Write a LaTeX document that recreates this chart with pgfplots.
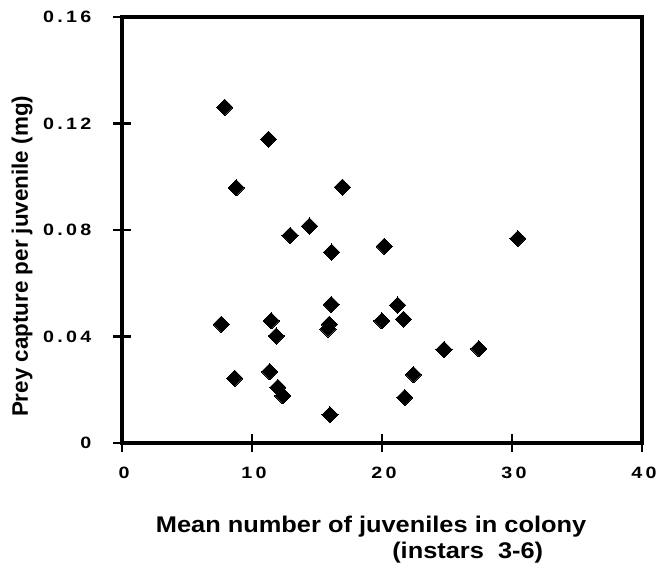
\documentclass[border=0pt]{standalone}
\usepackage{fontspec}
\setmainfont{Liberation Sans}
\newfontfamily\tickfont[FakeStretch=1.2, LetterSpace=20]{Liberation Sans}
\newfontfamily\labfont[FakeStretch=1.12]{Liberation Sans}
\usepackage{pgfplots}
\pgfplotsset{compat=1.18}
\pgfplotsset{every axis/.append style={line width=2.4pt},
  every outer x axis line/.append style={line width=2.4pt},
  every outer y axis line/.append style={line width=2.4pt}}
\begin{document}
\begin{tikzpicture}
\path[use as bounding box] (-91.5pt,-99pt) rectangle (404.25pt,332.25pt);
\begin{axis}[
  at={(0,0)}, anchor=south west,
  scale only axis, width=390pt, height=319.5pt,
  xmin=0, xmax=40, ymin=0, ymax=0.16,
  xtick={0,10,20,30,40}, xticklabels={0,10,20,30,40},
  ytick={0,0.04,0.08,0.12,0.16}, yticklabels={0,0.04,0.08,0.12,0.16},
  axis line style={line width=2.4pt, black},
  major tick style={line width=2.2pt, black},
  tick align=center, major tick length=13pt,
  xtick pos=bottom, ytick pos=left,
  ticklabel style={font=\tickfont\bfseries\fontsize{12.3}{14}\selectfont},
  yticklabel style={anchor=east, xshift=-12pt},
  xticklabel style={yshift=-7pt, xshift=1.5pt},
  ylabel={Prey capture per juvenile (mg)},
  ylabel style={font=\bfseries\fontsize{16.8}{19.5}\selectfont, at={(axis description cs:-0.192,0.438)}, anchor=center},
  xlabel={Mean number of juveniles in colony\\\hspace*{145pt}(instars\ \ 3-6)},
  xlabel style={font=\labfont\bfseries\fontsize{17}{19.5}\selectfont, align=center, at={(axis description cs:0.479,-0.228)}, anchor=center},
]
\addplot[only marks, mark=square*, mark size=4.3pt,
  mark options={rotate=45, fill=black, draw=black, line width=0pt}] coordinates {
(7.9,0.1261)
(11.27,0.1141)
(8.79,0.0959)
(16.95,0.0961)
(12.93,0.0780)
(14.42,0.0815)
(16.13,0.0717)
(20.17,0.0739)
(30.45,0.0768)
(7.64,0.0446)
(11.48,0.0459)
(11.86,0.0402)
(8.67,0.0243)
(11.35,0.0268)
(11.99,0.0209)
(12.37,0.0177)
(16.0,0.0106)
(16.1,0.0520)
(15.95,0.0446)
(15.85,0.0428)
(19.99,0.0459)
(21.2,0.0518)
(21.65,0.0465)
(24.77,0.0351)
(27.45,0.0354)
(22.42,0.0257)
(21.75,0.0171)
};
\end{axis}
\end{tikzpicture}
\end{document}
